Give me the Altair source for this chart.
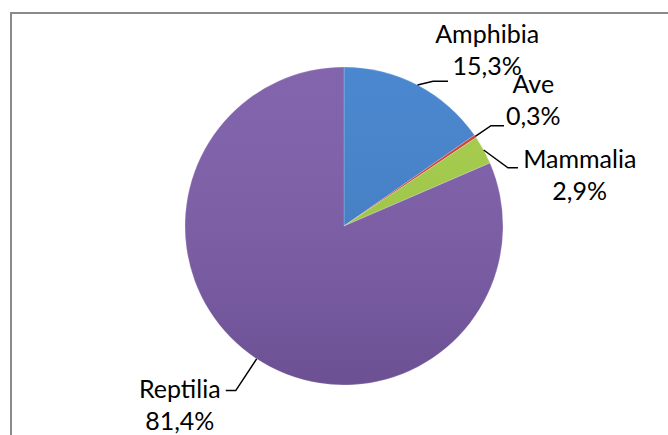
import math
import altair as alt
import pandas as pd

# ---- data ----
categories = ["Amphibia", "Ave", "Mammalia", "Reptilia"]
shares = [15.3, 0.3, 2.9, 81.4]
pct_labels = ["15,3%", "0,3%", "2,9%", "81,4%"]

# ---- style / layout ----
colors = ["#4080CC", "#CF3B33", "#A2CC45", "#7B5BA8"]
W, H = 668, 435
CX, CY = 344, 226
R = 159
FONT = "Lato"
LINE_H = 32
# label placement (polar around pie centre), leader elbow radius, elbow angle nudge, horizontal tail
layout = {
    "Amphibia": dict(lab_a=39.3, lab_r=226, elb_r=170, elb_da=4, tail=15),
    "Ave": dict(lab_a=56.5, lab_r=227, elb_r=178, elb_da=0, tail=13),
    "Mammalia": dict(lab_a=78.0, lab_r=241, elb_r=174, elb_da=9, tail=10),
    "Reptilia": dict(lab_a=222.3, lab_r=244, elb_r=197, elb_da=0, tail=-10),
}

pie_df = pd.DataFrame({"category": categories, "share": shares, "order": range(len(categories))})

total = sum(shares)
cum = 0.0
label_rows, leader_rows = [], []
for cat, s, p in zip(categories, shares, pct_labels):
    mid = (cum + s / 2) / total * 360.0
    cum += s
    L = layout[cat]
    la = math.radians(L["lab_a"])
    label_rows.append({"category": cat, "text": f"{cat}\n{p}",
                       "x": L["lab_r"] * math.sin(la), "y": L["lab_r"] * math.cos(la)})
    a0 = math.radians(mid)
    a1 = math.radians(mid + L["elb_da"])
    x0, y0 = R * math.sin(a0), R * math.cos(a0)
    x1, y1 = L["elb_r"] * math.sin(a1), L["elb_r"] * math.cos(a1)
    x2, y2 = x1 + L["tail"], y1
    for i, (x, y) in enumerate([(x0, y0), (x1, y1), (x2, y2)]):
        leader_rows.append({"category": cat, "i": i, "x": x, "y": y})

label_df = pd.DataFrame(label_rows)
leader_df = pd.DataFrame(leader_rows)

xs = alt.Scale(domain=[-CX, W - CX], nice=False, zero=False)
ys = alt.Scale(domain=[-(H - CY), CY], nice=False, zero=False)

pie = alt.Chart(pie_df).mark_arc(outerRadius=R, stroke="#ffffff", strokeWidth=0.6, strokeOpacity=0.35).encode(
    theta=alt.Theta("share:Q", stack=True),
    order=alt.Order("order:Q"),
    color=alt.Color("category:N", scale=alt.Scale(domain=categories, range=colors), legend=None),
    x=alt.value(CX),
    y=alt.value(CY),
)

shade = alt.Chart(pd.DataFrame({"k": [0]})).mark_arc(
    outerRadius=R, theta=0, theta2=2 * math.pi,
    color=alt.Gradient(
        gradient="linear", x1=0, y1=0, x2=0, y2=1,
        stops=[alt.GradientStop(offset=0, color="rgba(255,255,255,0.06)"),
               alt.GradientStop(offset=1, color="rgba(0,0,0,0.12)")],
    ),
).encode(x=alt.value(CX), y=alt.value(CY))

leaders = alt.Chart(leader_df).mark_line(color="#000000", strokeWidth=1.5).encode(
    x=alt.X("x:Q", scale=xs, axis=None),
    y=alt.Y("y:Q", scale=ys, axis=None),
    detail="category:N",
    order="i:Q",
)

labels = alt.Chart(label_df).mark_text(
    font=FONT, fontSize=25, lineBreak="\n", lineHeight=LINE_H, dy=-LINE_H / 2,
    align="center", baseline="middle", color="#000000",
).encode(
    x=alt.X("x:Q", scale=xs, axis=None),
    y=alt.Y("y:Q", scale=ys, axis=None),
    text="text:N",
)

frame_top = alt.Chart(pd.DataFrame({"k": [0]})).mark_rule(color="#8a8a8a", strokeWidth=2).encode(
    x=alt.value(10), x2=alt.value(W), y=alt.value(13))
frame_left = alt.Chart(pd.DataFrame({"k": [0]})).mark_rule(color="#8a8a8a", strokeWidth=2).encode(
    x=alt.value(11), y=alt.value(12), y2=alt.value(H))

chart = alt.layer(frame_top, frame_left, pie, shade, leaders, labels).properties(
    width=W, height=H, autosize=alt.AutoSizeParams(type="none"), padding=0,
    background="#ffffff",
).configure_view(stroke=None)

chart.save("out.html", embed_options={"renderer": "svg", "actions": False})
